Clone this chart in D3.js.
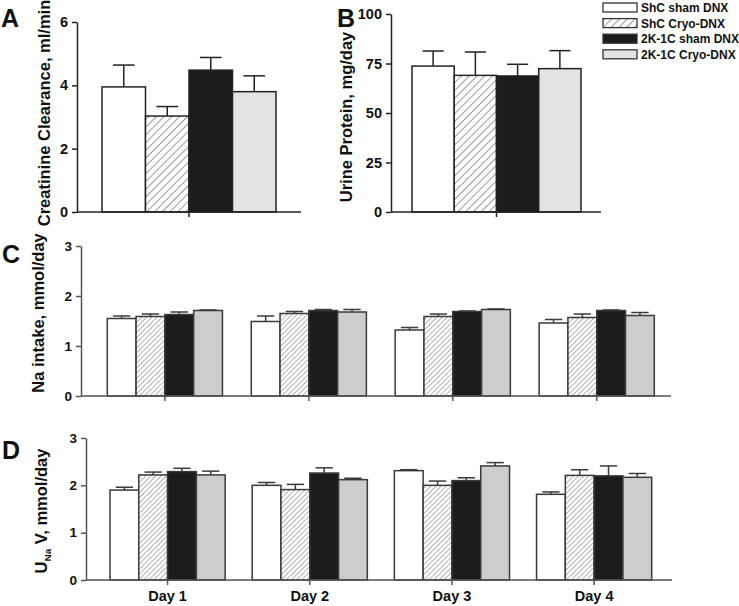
<!DOCTYPE html>
<html><head><meta charset="utf-8">
<script src="https://cdn.jsdelivr.net/npm/d3@7"></script>
<style>
body{margin:0;background:#fff;}
text{font-family:"Liberation Sans",Arial,Helvetica,sans-serif;font-weight:bold;}
</style></head>
<body>
<svg id="chart" width="739" height="606"></svg>
<script>
// ---------- data ----------
const series = ["ShC sham DNX", "ShC Cryo-DNX", "2K-1C sham DNX", "2K-1C Cryo-DNX"];
const creatMean = [3.95, 3.03, 4.48, 3.80];
const creatSem  = [0.69, 0.30, 0.40, 0.50];
const protMean  = [73.7, 69.0, 68.7, 72.4];
const protSem   = [7.6, 11.8, 5.9, 9.1];
const days = ["Day 1", "Day 2", "Day 3", "Day 4"];
// Na intake, per series across days
const naShamShC = [1.55, 1.49, 1.32, 1.46];
const naCryoShC = [1.59, 1.65, 1.59, 1.57];
const naSham2K  = [1.63, 1.71, 1.69, 1.71];
const naCryo2K  = [1.71, 1.68, 1.73, 1.61];
const naSemShamShC = [0.05, 0.11, 0.05, 0.07];
const naSemCryoShC = [0.05, 0.04, 0.05, 0.07];
const naSemSham2K  = [0.05, 0.02, 0.01, 0.01];
const naSemCryo2K  = [0.01, 0.05, 0.01, 0.06];
// UNaV
const uvShamShC = [1.90, 2.00, 2.31, 1.81];
const uvCryoShC = [2.22, 1.91, 2.00, 2.21];
const uvSham2K  = [2.29, 2.26, 2.10, 2.20];
const uvCryo2K  = [2.22, 2.12, 2.41, 2.17];
const uvSemShamShC = [0.06, 0.06, 0.02, 0.05];
const uvSemCryoShC = [0.06, 0.11, 0.09, 0.12];
const uvSemSham2K  = [0.07, 0.11, 0.06, 0.21];
const uvSemCryo2K  = [0.08, 0.03, 0.07, 0.08];
const ticksA = [0, 2, 4, 6];
const ticksB = [0, 25, 50, 75, 100];
const ticksCD = [0, 1, 2, 3];

const svg = d3.select("#chart");
const defs = svg.append("defs");
function hatch(id, w, col) {
  const p = defs.append("pattern").attr("id", id).attr("patternUnits", "userSpaceOnUse")
    .attr("width", w).attr("height", w).attr("patternTransform", "rotate(45)");
  p.append("rect").attr("width", w).attr("height", w).attr("fill", "#fff");
  p.append("line").attr("x1", 0).attr("y1", 0).attr("x2", 0).attr("y2", w)
    .attr("stroke", col).attr("stroke-width", 1.3);
}
hatch("hatchAB", 5.5, "#666");
hatch("hatchCD", 3.6, "#8a8a8a");

const fillsAB = ["#fff", "url(#hatchAB)", "#1c1c1c", "#e3e3e3"];
const fillsCD = ["#fff", "url(#hatchCD)", "#1c1c1c", "#cdcdcd"];

function panel(o) {
  const g = svg.append("g");
  const y = d3.scaleLinear().domain(o.domain).range([o.y0, o.y1]);
  const xg = d3.scaleBand().domain(o.groups).range([o.b0, o.b1]).paddingInner(o.pad).paddingOuter(0);
  const xs = d3.scaleBand().domain(series).range([0, xg.bandwidth()]);
  // bars
  o.groups.forEach((grp, gi) => {
    series.forEach((s, si) => {
      const v = o.values[si][gi], e = o.errs[si][gi];
      const x = xg(grp) + xs(s), w = xs.bandwidth();
      const cx = x + w / 2, cw = w * o.cap;
      g.append("line").attr("x1", cx).attr("x2", cx).attr("y1", y(v)).attr("y2", y(v + e))
        .attr("stroke", o.stroke).attr("stroke-width", 1.5);
      g.append("line").attr("x1", cx - cw / 2).attr("x2", cx + cw / 2).attr("y1", y(v + e)).attr("y2", y(v + e))
        .attr("stroke", o.stroke).attr("stroke-width", 1.5);
      g.append("rect").attr("x", x).attr("y", y(v)).attr("width", w).attr("height", y(0) - y(v))
        .attr("fill", o.fills[si]).attr("stroke", o.stroke).attr("stroke-width", 1.5);
    });
  });
  // y axis
  const ya = g.append("g").attr("transform", `translate(${o.ax},0)`)
    .call(d3.axisLeft(y).tickValues(o.ticks).tickFormat(d3.format("d")).tickSize(5).tickSizeOuter(0).tickPadding(4));
  ya.select(".domain").attr("stroke", o.axis).attr("stroke-width", 1.5);
  ya.selectAll(".tick line").attr("stroke", o.axis).attr("stroke-width", 1.5);
  ya.selectAll(".tick text").style("font-size", o.tickFont + "px").attr("fill", "#111")
    .style("font-family", '"Liberation Sans",Arial,sans-serif').style("font-weight", "bold");
  // x axis
  g.append("line").attr("x1", o.ax).attr("x2", o.axEnd).attr("y1", y(0)).attr("y2", y(0))
    .attr("stroke", o.axis).attr("stroke-width", 1.5);
  const xa = g.append("g").attr("transform", `translate(0,${y(0)})`)
    .call(d3.axisBottom(xg).tickSize(5).tickSizeOuter(0).tickPadding(6));
  xa.select(".domain").remove();
  xa.selectAll(".tick line").attr("stroke", o.axis).attr("stroke-width", 1.5);
  xa.selectAll(".tick text").style("font-size", "14.5px").attr("fill", "#111")
    .style("font-family", '"Liberation Sans",Arial,sans-serif').style("font-weight", "bold")
    .style("display", o.showDays ? null : "none");
  // y label
  const lab = g.append("text").attr("transform", `translate(${o.labX},${(o.y0 + o.y1) / 2 + (o.labDy || 0)}) rotate(-90)`)
    .attr("text-anchor", "middle").style("font-size", o.labFont + "px").attr("fill", "#111");
  o.label.forEach(part => {
    const t = lab.append("tspan").text(part.t);
    if (part.sub) t.style("font-size", (o.labFont * 0.6) + "px").attr("dy", 4);
    if (part.after) t.attr("dy", -4);
  });
  // letter
  svg.append("text").attr("x", o.letX).attr("y", o.letY).text(o.letter)
    .style("font-size", "25px").attr("fill", "#111");
}

panel({ domain: [0, 6], y0: 212, y1: 22, groups: ["A"], b0: 102, b1: 276, pad: 0,
  values: creatMean.map(v => [v]), errs: creatSem.map(v => [v]), ax: 77, axEnd: 301,
  ticks: ticksA, tickFont: 14.5, fills: fillsAB, stroke: "#222", axis: "#222", cap: 0.5,
  label: [{ t: "Creatinine Clearance, ml/min" }], labX: 50, labDy: -4, labFont: 16.5,
  letter: "A", letX: 1, letY: 27, showDays: false });

panel({ domain: [0, 100], y0: 212, y1: 14, groups: ["B"], b0: 412, b1: 581, pad: 0,
  values: protMean.map(v => [v]), errs: protSem.map(v => [v]), ax: 391, axEnd: 601,
  ticks: ticksB, tickFont: 14.5, fills: fillsAB, stroke: "#222", axis: "#222", cap: 0.5,
  label: [{ t: "Urine Protein, mg/day" }], labX: 352, labDy: 4, labFont: 16.5,
  letter: "B", letX: 337, letY: 27, showDays: false });

panel({ domain: [0, 3], y0: 396, y1: 246, groups: days, b0: 107.3, b1: 654.3, pad: 0.2,
  values: [naShamShC, naCryoShC, naSham2K, naCryo2K],
  errs: [naSemShamShC, naSemCryoShC, naSemSham2K, naSemCryo2K], ax: 81, axEnd: 671,
  ticks: ticksCD, tickFont: 13.5, fills: fillsCD, stroke: "#3a3a3a", axis: "#555", cap: 0.6,
  label: [{ t: "Na intake, mmol/day" }], labX: 44, labDy: -8, labFont: 16.5,
  letter: "C", letX: 2, letY: 263, showDays: false });

panel({ domain: [0, 3], y0: 580, y1: 438, groups: days, b0: 110, b1: 651.7, pad: 0.19,
  values: [uvShamShC, uvCryoShC, uvSham2K, uvCryo2K],
  errs: [uvSemShamShC, uvSemCryoShC, uvSemSham2K, uvSemCryo2K], ax: 86, axEnd: 672,
  ticks: ticksCD, tickFont: 13.5, fills: fillsCD, stroke: "#3a3a3a", axis: "#555", cap: 0.6,
  label: [{ t: "U" }, { t: "Na", sub: true }, { t: " V, mmol/day", after: true }], labX: 47, labDy: 2, labFont: 16.5,
  letter: "D", letX: 2, letY: 459, showDays: true });

// legend
const leg = svg.append("g");
series.forEach((s, i) => {
  const yy = 3 + i * 15.6;
  leg.append("rect").attr("x", 603).attr("y", yy).attr("width", 34).attr("height", 9)
    .attr("fill", fillsAB[i]).attr("stroke", "#333").attr("stroke-width", 1.3);
  leg.append("text").attr("x", 641).attr("y", yy + 9).text(s)
    .style("font-size", "12px").attr("fill", "#111");
});
</script>
</body></html>
